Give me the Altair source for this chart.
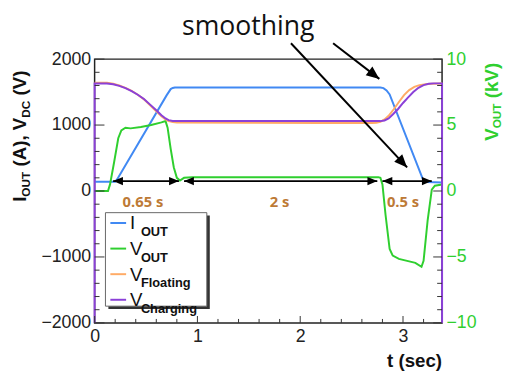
import math
import altair as alt
import pandas as pd

# ---------------- data ----------------
t_iout = [0.00, 0.20, 0.22, 0.70, 0.74, 0.76, 0.78, 2.78, 2.81, 2.84, 2.87, 3.19, 3.23, 3.38]
iout = [140, 140, 180, 1450, 1545, 1562, 1570, 1570, 1560, 1525, 1465, 190, 135, 130]

t_vout = [0.00, 0.13, 0.15, 0.19, 0.23, 0.26, 0.30, 0.35, 0.45, 0.55, 0.65, 0.69, 0.71, 0.74,
          0.77, 0.80, 0.83, 0.87, 0.95, 2.76, 2.78, 2.80, 2.83, 2.87, 2.90, 2.96, 3.04, 3.12,
          3.18, 3.20, 3.24, 3.28, 3.31, 3.38]
vout = [0.0, 0.0, 0.5, 2.2, 4.0, 4.6, 4.8, 4.75, 4.85, 5.0, 5.2, 5.3, 4.8, 3.2,
        1.8, 1.0, 0.8, 1.0, 1.05, 1.05, 1.0, 0.5, -1.8, -4.4, -4.9, -5.15, -5.3, -5.45,
        -5.75, -5.3, -2.2, 0.1, 0.4, 0.5]

t_vfl = [0.00, 0.12, 0.18, 0.24, 0.30, 0.36, 0.42, 0.48, 0.54, 0.60, 0.65, 0.69, 0.72, 0.76,
         0.80, 1.50, 2.20, 2.70, 2.74, 2.78, 2.82, 2.86, 2.91, 2.96, 3.01, 3.06, 3.11, 3.16,
         3.22, 3.28, 3.38]
vfl = [1640, 1640, 1628, 1600, 1565, 1520, 1460, 1390, 1300, 1210, 1135, 1085, 1060, 1045,
       1040, 1035, 1030, 1030, 1035, 1050, 1085, 1140, 1240, 1350, 1455, 1530, 1580, 1605,
       1620, 1628, 1630]

t_vch = [0.00, 0.00, 0.12, 0.18, 0.24, 0.30, 0.36, 0.42, 0.48, 0.54, 0.60, 0.65, 0.69, 0.72,
         0.76, 0.80, 1.50, 2.78, 2.82, 2.86, 2.90, 2.95, 3.00, 3.05, 3.10, 3.15, 3.20, 3.25,
         3.30, 3.38, 3.38]
vch = [-2000, 1630, 1630, 1618, 1595, 1560, 1515, 1460, 1395, 1310, 1225, 1150, 1100, 1075,
       1062, 1060, 1060, 1060, 1070, 1100, 1160, 1240, 1335, 1420, 1500, 1565, 1605, 1625,
       1632, 1632, -2000]

x_major = [0, 1, 2, 3]
x_minor = [0.2, 0.4, 0.6, 0.8, 1.2, 1.4, 1.6, 1.8, 2.2, 2.4, 2.6, 2.8, 3.2]
yl_major = [-2000, -1000, 0, 1000, 2000]
yl_minor = [-1800, -1600, -1400, -1200, -800, -600, -400, -200,
            200, 400, 600, 800, 1200, 1400, 1600, 1800]
yr_major = [-10, -5, 0, 5, 10]
yr_minor = [-9, -8, -7, -6, -4, -3, -2, -1, 1, 2, 3, 4, 6, 7, 8, 9]

span_start = [0.18, 0.87, 2.80]
span_end = [0.82, 2.75, 3.28]
span_level = 150
span_labels = ["0.65 s", "2 s", "0.5 s"]
span_label_t = [0.47, 1.80, 3.00]
span_label_v = -240

smooth_start_t = [2.32, 1.91]
smooth_start_v = [2240, 2240]
smooth_tip_t = [2.77, 3.04]
smooth_tip_v = [1700, 358]

legend_main = ["I", "V", "V", "V"]
legend_sub = ["OUT", "OUT", "Floating", "Charging"]

# ---------------- style ----------------
W, H = 353, 268
XMAX = 3.38
FONT = "Liberation Sans"
BLUE = "#4189f3"
GREEN = "#2fcf2f"
ORANGE = "#ffab66"
PURPLE = "#8b40d8"
LABEL_C = "#bd7a36"
colors = [BLUE, GREEN, ORANGE, PURPLE]

X = alt.Scale(domain=[0, XMAX], nice=False, zero=False)
YL = alt.Scale(domain=[-2000, 2000], nice=False, zero=False)
YR = alt.Scale(domain=[-10, 10], nice=False, zero=False)

XAX = alt.Axis(values=x_major, ticks=False, domain=False, grid=False,
               labelFont=FONT, labelFontSize=18, labelColor="#222", labelPadding=5,
               labelFlush=False, title=None, format="d", orient="bottom")
ylaxis = alt.Axis(values=yl_major, ticks=False, domain=False, grid=False,
                  labelFont=FONT, labelFontSize=18, labelColor="#222", labelPadding=4,
                  title=None, format="d")
yraxis = alt.Axis(values=yr_major, orient="right", ticks=False, domain=False,
                  grid=False, labelFont=FONT, labelFontSize=18, labelColor=GREEN,
                  labelPadding=4, title=None, format="d")

BOLD_W = {" ": 0.278, "(": 0.333, ")": 0.333, ",": 0.278, "A": 0.722, "V": 0.667,
          "I": 0.278, "O": 0.778, "U": 0.722, "T": 0.611, "D": 0.722, "C": 0.722,
          "k": 0.556}


def tw(s, size):
    return sum(BOLD_W.get(c, 0.6) for c in s) * size


one = pd.DataFrame({"a": [0]})


def xenc(field):
    return alt.X(field, type="quantitative", scale=X, axis=XAX)


def txt(s, x, y, size, color="#111", weight="bold", angle=0, align="left",
        font=FONT, baseline="alphabetic"):
    kw = dict(text=s, fontSize=size, font=font, fontWeight=weight, color=color,
              align=align, baseline=baseline)
    if angle:
        kw["angle"] = angle
    return alt.Chart(one).mark_text(**kw).encode(x=alt.value(x), y=alt.value(y))


def rotated_title(pieces, x_main, x_sub, y_start, color):
    out = []
    y = y_start
    for s, size, sub in pieces:
        lead = len(s) - len(s.lstrip(" "))
        y -= lead * BOLD_W[" "] * size
        s2 = s.lstrip(" ")
        out.append(txt(s2, x_sub if sub else x_main, y, size, color=color, angle=270))
        y -= tw(s2, size)
    return out


def series(t, v, color, yscale, yaxis=None):
    df = pd.DataFrame({"t": t, "v": v, "i": list(range(len(t)))})
    return alt.Chart(df).mark_line(color=color, strokeWidth=2).encode(
        x=xenc("t"),
        y=alt.Y("v:Q", scale=yscale, axis=yaxis),
        order=alt.Order("i:Q"))


layers = []
layers.append(series(t_iout, iout, BLUE, YL, ylaxis))
layers.append(series(t_vout, vout, GREEN, YR, yraxis))
layers.append(series(t_vfl, vfl, ORANGE, YL))
layers.append(series(t_vch, vch, PURPLE, YL))

# inner ticks
TICK_C = "#333"
for vals, ln in [(yl_major, 10), (yl_minor, 5)]:
    layers.append(alt.Chart(pd.DataFrame({"v": vals})).mark_rule(color=TICK_C, strokeWidth=1).encode(
        y=alt.Y("v:Q", scale=YL, axis=None), x=alt.value(0), x2=alt.value(ln)))
for vals, ln in [(yr_major, 9), (yr_minor, 5)]:
    layers.append(alt.Chart(pd.DataFrame({"v": vals})).mark_rule(color=TICK_C, strokeWidth=1).encode(
        y=alt.Y("v:Q", scale=YR, axis=None), x=alt.value(W), x2=alt.value(W - ln)))
for vals, ln in [(x_major, 7), (x_minor, 4)]:
    layers.append(alt.Chart(pd.DataFrame({"t": vals})).mark_rule(color=TICK_C, strokeWidth=1).encode(
        x=xenc("t"), y=alt.value(H), y2=alt.value(H - ln)))

# span arrows
RIGHT_HEAD = "M0,0L-1,-0.42L-1,0.42Z"
LEFT_HEAD = "M0,0L1,-0.42L1,0.42Z"
span_df = pd.DataFrame({"t1": span_start, "t2": span_end, "v": [span_level] * len(span_start)})
layers.append(alt.Chart(span_df).mark_rule(color="black", strokeWidth=2).encode(
    x=xenc("t1"), x2="t2:Q", y=alt.Y("v:Q", scale=YL, axis=None)))
layers.append(alt.Chart(span_df).mark_point(shape=RIGHT_HEAD, filled=True, color="black",
                                            opacity=1, size=400).encode(
    x=xenc("t2"), y=alt.Y("v:Q", scale=YL, axis=None)))
layers.append(alt.Chart(span_df).mark_point(shape=LEFT_HEAD, filled=True, color="black",
                                            opacity=1, size=400).encode(
    x=xenc("t1"), y=alt.Y("v:Q", scale=YL, axis=None)))
lab_df = pd.DataFrame({"t": span_label_t, "v": [span_label_v] * 3, "s": span_labels})
layers.append(alt.Chart(lab_df).mark_text(font="Open Sans", fontSize=15, fontWeight="bold",
                                          color=LABEL_C, baseline="alphabetic").encode(
    x=xenc("t"), y=alt.Y("v:Q", scale=YL, axis=None), text="s:N"))

# smoothing arrows
sm_df = pd.DataFrame({"t1": smooth_start_t, "v1": smooth_start_v,
                      "t2": smooth_tip_t, "v2": smooth_tip_v})
layers.append(alt.Chart(sm_df).mark_rule(color="black", strokeWidth=2).encode(
    x=xenc("t1"), x2="t2:Q",
    y=alt.Y("v1:Q", scale=YL, axis=None), y2="v2:Q"))
for t1, v1, t2, v2 in zip(smooth_start_t, smooth_start_v, smooth_tip_t, smooth_tip_v):
    dx = (t2 - t1) * W / XMAX
    dy = (v1 - v2) * H / 4000
    ang = math.degrees(math.atan2(dy, dx)) % 360
    d = pd.DataFrame({"t": [t2], "v": [v2]})
    layers.append(alt.Chart(d).mark_point(shape=RIGHT_HEAD, filled=True, color="black",
                                          opacity=1, size=700, angle=ang).encode(
        x=xenc("t"), y=alt.Y("v:Q", scale=YL, axis=None)))

# legend
layers.append(alt.Chart(one).mark_rect(color="#333").encode(
    x=alt.value(14), x2=alt.value(117), y=alt.value(159), y2=alt.value(254)))
layers.append(alt.Chart(one).mark_rect(fill="white", stroke="#666", strokeWidth=1).encode(
    x=alt.value(11), x2=alt.value(114), y=alt.value(156), y2=alt.value(251)))
for i, (m, s) in enumerate(zip(legend_main, legend_sub)):
    base = 173 + 26 * i
    layers.append(alt.Chart(one).mark_rule(color=colors[i], strokeWidth=2).encode(
        x=alt.value(16), x2=alt.value(32), y=alt.value(base - 6.5)))
    layers.append(txt(m, 36, base, 19, weight="normal"))
    layers.append(txt(s, 47, base + 7, 13, weight="bold"))

# titles
layers += rotated_title([("I", 19, False), ("OUT", 12, True), (" (A), V", 19, False),
                         ("DC", 12, True), (" (V)", 19, False)], -70, -66, 145, "#111")
layers += rotated_title([("V", 19, False), ("OUT", 12, True), (" (kV)", 19, False)],
                        410, 413, 83, GREEN)
layers.append(txt("t (sec)", W, 313, 19, align="right"))
layers.append(txt("smoothing", 156, -24, 27, color="#111", weight="normal",
                  font="Open Sans", align="center"))

chart = alt.layer(*layers).resolve_scale(y="independent").properties(
    width=W, height=H,
    autosize=alt.AutoSizeParams(type="none"),
    padding={"left": 88, "top": 49, "right": 68, "bottom": 50},
    background="white",
).configure_view(stroke="#222", strokeWidth=1.5)

chart.save("out.html", embed_options={"renderer": "svg", "actions": False})
